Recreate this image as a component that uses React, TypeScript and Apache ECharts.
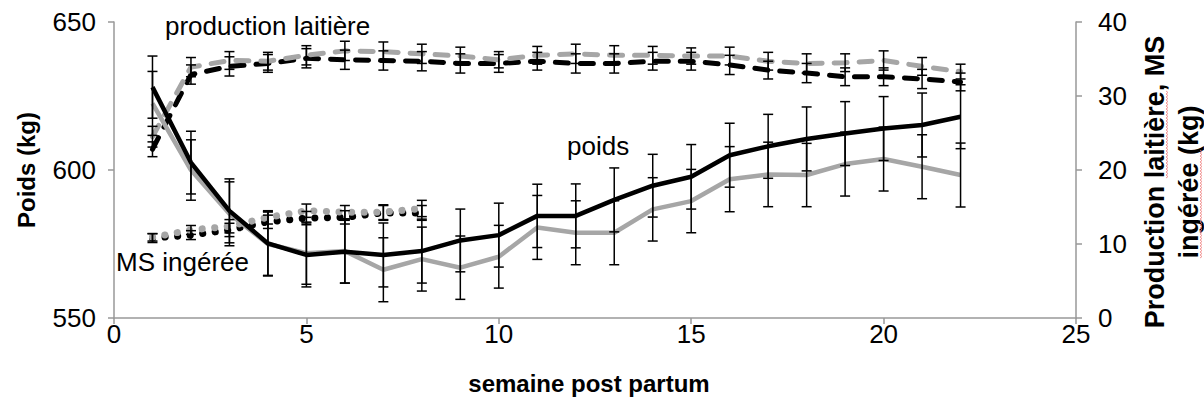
import React, { useEffect, useRef } from "react";
import * as echarts from "echarts";

// semaines post partum
const weeks = [1, 2, 3, 4, 5, 6, 7, 8, 9, 10, 11, 12, 13, 14, 15, 16, 17, 18, 19, 20, 21, 22];
const msWeeks = [1, 2, 3, 4, 5, 6, 7, 8];

// Poids (kg) - axe gauche
const poidsNoir = [628, 602.5, 586.2, 575.2, 571.3, 572.4, 571.3, 572.6, 576.2, 578, 584.5, 584.5, 589.9, 594.7, 597.7, 605, 608, 610.5, 612.3, 614, 615.2, 618];
const poidsNoirSE = [10.5, 10.6, 10.8, 10.8, 10.8, 10.6, 10.8, 10.8, 10.6, 10.8, 10.7, 10.8, 10.8, 10.6, 10.9, 10.8, 10.8, 10.8, 10.8, 10.8, 10.8, 10.8];
const poidsGris = [622.5, 600, 585.2, 575, 571.9, 572.6, 566.3, 569.9, 567, 570.7, 580.6, 578.8, 578.8, 586.7, 589.5, 596.9, 598.5, 598.3, 602, 603.7, 601.1, 598.3];
const poidsGrisSE = [10.8, 10.2, 10.8, 10.8, 10.5, 10.8, 10.8, 10.8, 10.7, 10.6, 10.8, 10.8, 10.8, 10.7, 10.7, 11, 10.9, 10.7, 10.8, 10.8, 10.8, 10.8];

// Production laitière (kg) - axe droit
const prodNoir = [22.8, 32.9, 34.0, 34.4, 35.1, 34.9, 34.8, 34.7, 34.4, 34.4, 34.7, 34.4, 34.4, 34.7, 34.7, 34.2, 33.5, 33.1, 32.6, 32.6, 32.3, 31.9];
const prodNoirSE = [1.0, 1.3, 1.3, 1.2, 1.3, 1.3, 1.3, 1.3, 1.3, 1.2, 1.2, 1.3, 1.3, 1.2, 1.2, 1.3, 1.2, 1.3, 1.2, 1.2, 1.3, 1.2];
const prodGris = [24.5, 33.9, 34.8, 34.7, 35.5, 36.1, 36.0, 35.7, 35.4, 34.9, 35.5, 35.7, 35.5, 35.5, 35.4, 35.4, 34.7, 34.4, 34.5, 34.8, 34.0, 33.3];
const prodGrisSE = [1.4, 1.3, 1.2, 1.2, 1.3, 1.3, 1.3, 1.3, 1.2, 1.1, 1.2, 1.3, 1.3, 1.2, 1.1, 1.2, 1.2, 1.3, 1.2, 1.3, 1.2, 1.0];

// MS ingérée (kg) - axe droit
const msNoir = [10.8, 11.2, 11.9, 13.0, 13.5, 13.6, 14.2, 14.2];
const msNoirSE = [0.6, 0.6, 0.9, 0.9, 0.9, 0.9, 1.0, 1.0];
const msGris = [10.9, 11.9, 12.4, 13.6, 14.5, 14.3, 14.3, 14.8];
const msGrisSE = [0.5, 0.6, 0.9, 0.9, 0.9, 0.9, 1.0, 1.1];

const GREY = "#a6a6a6";
const FONT = "Liberation Sans";

const pts = (xs: number[], ys: number[]) => xs.map((x, i) => [x, ys[i]]);
const errs = (xs: number[], ys: number[], se: number[]) =>
  xs.map((x, i) => [x, ys[i] - se[i], ys[i] + se[i]]);

const errRender = (_params: any, api: any) => {
  const x = api.value(0);
  const lo = api.coord([x, api.value(1)]);
  const hi = api.coord([x, api.value(2)]);
  const w = 5;
  const style = { stroke: "#000", lineWidth: 1.5, fill: "none" };
  return {
    type: "group",
    children: [
      { type: "line", shape: { x1: lo[0], y1: lo[1], x2: hi[0], y2: hi[1] }, style },
      { type: "line", shape: { x1: lo[0] - w, y1: lo[1], x2: lo[0] + w, y2: lo[1] }, style },
      { type: "line", shape: { x1: hi[0] - w, y1: hi[1], x2: hi[0] + w, y2: hi[1] }, style },
    ],
  };
};

const errSeries = (data: number[][], yAxisIndex: number) => ({
  type: "custom",
  yAxisIndex,
  renderItem: errRender,
  data,
  encode: { x: 0, y: [1, 2] },
  silent: true,
  z: 10,
});

// vertical spell-check squiggle (decoration under rotated words)
const squiggle = (x: number, y1: number, y2: number) => {
  const points: number[][] = [];
  let k = 0;
  for (let y = y2; y >= y1; y -= 1.5) {
    points.push([x + (k % 2 === 0 ? -1 : 1), y]);
    k++;
  }
  return {
    type: "polyline",
    shape: { points },
    style: { stroke: "#f08080", lineWidth: 0.8, fill: "none" },
    silent: true,
  };
};

export default function App() {
  const ref = useRef<HTMLDivElement>(null);
  useEffect(() => {
    const chart = echarts.init(ref.current!, null, { renderer: "svg" });
    const axisLine = { show: true, lineStyle: { color: "#999999", width: 1.5 } };
    const axisTick = { show: true, length: 6, lineStyle: { color: "#999999", width: 1.5 } };
    const option: any = {
      animation: false,
      backgroundColor: "#ffffff",
      grid: { left: 114, right: 128, top: 22, bottom: 87, containLabel: false },
      xAxis: {
        type: "value",
        min: 0,
        max: 25,
        interval: 5,
        axisLine,
        axisTick,
        splitLine: { show: false },
        axisLabel: { fontSize: 26, color: "#000", fontFamily: FONT, margin: 3 },
      },
      yAxis: [
        {
          type: "value",
          min: 550,
          max: 650,
          interval: 50,
          position: "left",
          axisLine,
          axisTick,
          splitLine: { show: false },
          axisLabel: { fontSize: 26, color: "#000", fontFamily: FONT, margin: 18 },
        },
        {
          type: "value",
          min: 0,
          max: 40,
          interval: 10,
          position: "right",
          axisLine,
          axisTick,
          splitLine: { show: false },
          axisLabel: { fontSize: 26, color: "#000", fontFamily: FONT, margin: 22 },
        },
      ],
      series: [
        {
          type: "line",
          yAxisIndex: 1,
          data: pts(msWeeks, msNoir),
          symbol: "none",
          lineStyle: { color: "#000", width: 7, type: [0.1, 12.5], cap: "round" },
          z: 2,
        },
        {
          type: "line",
          yAxisIndex: 1,
          data: pts(msWeeks, msGris),
          symbol: "none",
          lineStyle: { color: GREY, width: 7, type: [0.1, 12.5], cap: "round" },
          z: 2,
        },
        {
          type: "line",
          yAxisIndex: 1,
          data: pts(weeks, prodNoir),
          symbol: "none",
          lineStyle: { color: "#000", width: 5, type: [13, 12], cap: "round" },
          z: 3,
        },
        {
          type: "line",
          yAxisIndex: 1,
          data: pts(weeks, prodGris),
          symbol: "none",
          lineStyle: { color: GREY, width: 5, type: [13, 12], cap: "round" },
          z: 3,
        },
        {
          type: "line",
          yAxisIndex: 0,
          data: pts(weeks, poidsGris),
          symbol: "none",
          lineStyle: { color: GREY, width: 4.5 },
          z: 4,
        },
        {
          type: "line",
          yAxisIndex: 0,
          data: pts(weeks, poidsNoir),
          symbol: "none",
          lineStyle: { color: "#000", width: 4.5 },
          z: 5,
        },
        errSeries(errs(weeks, poidsNoir, poidsNoirSE), 0),
        errSeries(errs(weeks, poidsGris, poidsGrisSE), 0),
        errSeries(errs(weeks, prodNoir, prodNoirSE), 1),
        errSeries(errs(weeks, prodGris, prodGrisSE), 1),
        errSeries(errs(msWeeks, msNoir, msNoirSE), 1),
        errSeries(errs(msWeeks, msGris, msGrisSE), 1),
      ],
      graphic: [
        {
          type: "text",
          x: 26,
          y: 170,
          rotation: Math.PI / 2,
          style: {
            text: "Poids (kg)",
            fontSize: 24,
            fontWeight: "bold",
            fontFamily: FONT,
            fill: "#000",
            align: "center",
            verticalAlign: "middle",
          },
        },
        {
          type: "text",
          x: 589,
          y: 383,
          style: {
            text: "semaine post partum",
            fontSize: 24,
            fontWeight: "bold",
            fontFamily: FONT,
            fill: "#000",
            align: "center",
            verticalAlign: "middle",
          },
        },
        {
          type: "text",
          x: 1172,
          y: 182,
          rotation: Math.PI / 2,
          style: {
            text: "Production laitière, MS\ningérée (kg)",
            fontSize: 27,
            lineHeight: 34,
            fontWeight: "bold",
            fontFamily: FONT,
            fill: "#000",
            align: "center",
            verticalAlign: "middle",
          },
        },
        squiggle(1167, 91, 178),
        squiggle(1201, 149, 258),
        {
          type: "text",
          x: 165,
          y: 26,
          style: { text: "production laitière", fontSize: 26, fontFamily: FONT, fill: "#000", align: "left", verticalAlign: "middle" },
        },
        {
          type: "text",
          x: 567,
          y: 146,
          style: { text: "poids", fontSize: 26, fontFamily: FONT, fill: "#000", align: "left", verticalAlign: "middle" },
        },
        {
          type: "text",
          x: 116,
          y: 262,
          style: { text: "MS ingérée", fontSize: 26, fontFamily: FONT, fill: "#000", align: "left", verticalAlign: "middle" },
        },
      ],
    };
    chart.setOption(option);
    return () => chart.dispose();
  }, []);
  return (
    <div
      ref={ref}
      style={{ position: "absolute", left: 0, top: 0, width: 1204, height: 405, background: "#fff" }}
    />
  );
}
